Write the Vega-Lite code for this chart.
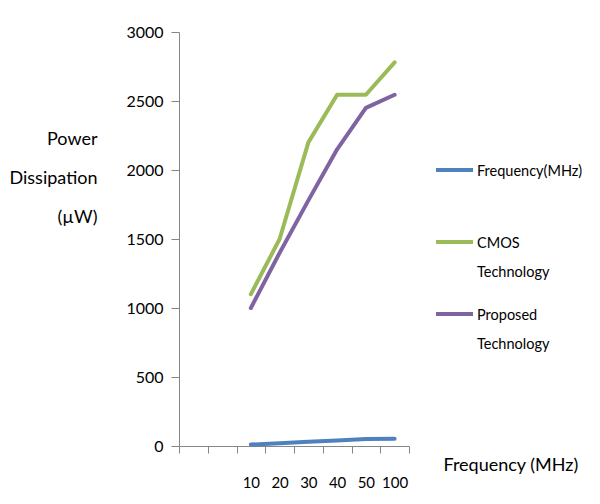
{
  "$schema": "https://vega.github.io/schema/vega-lite/v6.json",
  "width": 230,
  "height": 414,
  "padding": {"left": 179, "top": 32, "right": 191, "bottom": 58},
  "autosize": {"type": "none"},
  "background": "white",
  "config": {
    "font": "Lato",
    "view": {"stroke": null},
    "style": {"guide-label": {"lineHeight": 29}},
    "axis": {"labelFont": "Lato", "titleFont": "Lato", "labelColor": "#000000", "titleColor": "#000000", "titleFontWeight": "normal", "domainColor": "#868686", "tickColor": "#868686", "grid": false}
  },
  "data": {
    "values": [
      {"freq": "10", "series": "Frequency(MHz)", "value": 10},
      {"freq": "20", "series": "Frequency(MHz)", "value": 20},
      {"freq": "30", "series": "Frequency(MHz)", "value": 30},
      {"freq": "40", "series": "Frequency(MHz)", "value": 40},
      {"freq": "50", "series": "Frequency(MHz)", "value": 50},
      {"freq": "100", "series": "Frequency(MHz)", "value": 52},
      {"freq": "10", "series": "CMOS Technology", "value": 1100},
      {"freq": "20", "series": "CMOS Technology", "value": 1500},
      {"freq": "30", "series": "CMOS Technology", "value": 2200},
      {"freq": "40", "series": "CMOS Technology", "value": 2545},
      {"freq": "50", "series": "CMOS Technology", "value": 2545},
      {"freq": "100", "series": "CMOS Technology", "value": 2780},
      {"freq": "10", "series": "Proposed Technology", "value": 1000},
      {"freq": "20", "series": "Proposed Technology", "value": 1400},
      {"freq": "30", "series": "Proposed Technology", "value": 1780},
      {"freq": "40", "series": "Proposed Technology", "value": 2150},
      {"freq": "50", "series": "Proposed Technology", "value": 2450},
      {"freq": "100", "series": "Proposed Technology", "value": 2545}
    ]
  },
  "mark": {"type": "line", "strokeWidth": 4, "strokeCap": "round", "strokeJoin": "round"},
  "encoding": {
    "x": {
      "field": "freq",
      "type": "ordinal",
      "scale": {"domain": ["a", "b", "10", "20", "30", "40", "50", "100"], "paddingInner": 0, "paddingOuter": 0},
      "sort": null,
      "axis": {
        "labelAngle": 0,
        "labelExpr": "datum.value == 'a' || datum.value == 'b' ? '' : datum.label",
        "labelFontSize": 15,
        "labelPadding": 22,
        "tickSize": 7,
        "tickBand": "extent",
        "title": "Frequency (MHz)",
        "titleFontSize": 18,
        "titleAlign": "left",
        "titleBaseline": "middle",
        "titleX": 264,
        "titleY": 19
      }
    },
    "y": {
      "field": "value",
      "type": "quantitative",
      "scale": {"domain": [0, 3000], "nice": false},
      "axis": {
        "values": [0, 500, 1000, 1500, 2000, 2500, 3000],
        "format": "d",
        "labelFontSize": 16,
        "labelPadding": 8,
        "tickSize": 8,
        "title": ["Power", "Dissipation", "(µW)"],
        "titleAngle": 0,
        "titleFontSize": 18,
        "titleAlign": "right",
        "titleBaseline": "middle",
        "titleLineHeight": 39,
        "titleX": -82,
        "titleY": 107
      }
    },
    "color": {
      "field": "series",
      "type": "nominal",
      "scale": {"domain": ["Frequency(MHz)", "CMOS Technology", "Proposed Technology"], "range": ["#4F81BD", "#9BBB59", "#8064A2"]},
      "legend": {
        "title": null,
        "orient": "none",
        "legendX": 255,
        "legendY": 123,
        "symbolType": "M-1,-0.3H1",
        "symbolSize": 1369,
        "symbolStrokeWidth": 4,
        "labelFontSize": 14.5,
        "labelFont": "Lato",
        "labelColor": "#000000",
        "labelOffset": 2,
        "labelBaseline": "alphabetic",
        "rowPadding": 20,
        "labelExpr": "datum.label == 'CMOS Technology' ? ['CMOS', 'Technology'] : datum.label == 'Proposed Technology' ? ['Proposed', 'Technology'] : [datum.label, ' ']"
      }
    }
  }
}
